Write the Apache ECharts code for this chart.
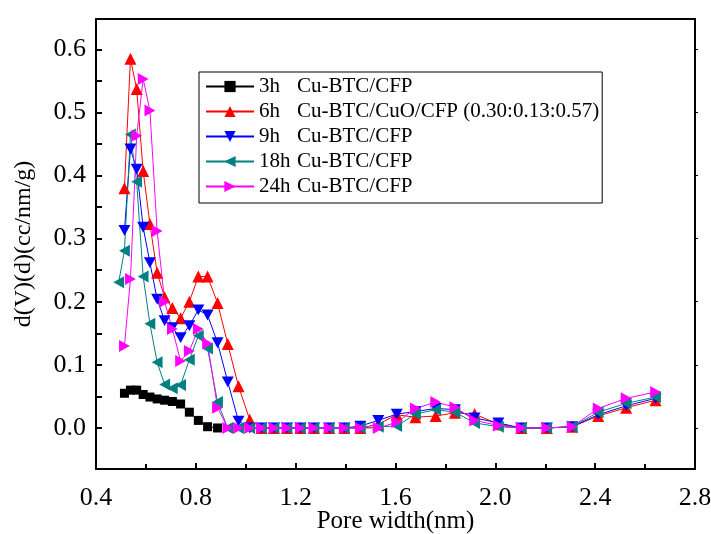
<!DOCTYPE html>
<html>
<head>
<meta charset="utf-8">
<script src="https://cdn.jsdelivr.net/npm/echarts@6/dist/echarts.min.js"></script>
<style>
  html, body { margin: 0; padding: 0; background: #fff; }
  #container1 { width: 711px; height: 534px; }
</style>
</head>
<body>
<div id="container1"></div>
<script>
// 孔径分布 (DFT)
var poreWidth = [0.491, 0.514, 0.538, 0.563, 0.589, 0.616, 0.645, 0.675, 0.706, 0.739,
                 0.774, 0.810, 0.847, 0.887, 0.928, 0.971, 1.016, 1.063, 1.113, 1.165,
                 1.219, 1.273, 1.334, 1.395, 1.459, 1.531, 1.605, 1.680, 1.761, 1.838,
                 1.917, 2.012, 2.104, 2.206, 2.308, 2.412, 2.524, 2.642];

var h3  = [null, 0.055, 0.060, 0.060, 0.053, 0.049, 0.046, 0.044, 0.042, 0.038,
           0.025, 0.012, 0.002, 0.000];
var h6  = [null, 0.380, 0.585, 0.537, 0.407, 0.323, 0.246, 0.207, 0.190, 0.174,
           0.200, 0.240, 0.240, 0.198, 0.133, 0.066, 0.013, 0.000, 0.000, 0.000,
           0.000, 0.000, 0.000, 0.000, 0.000, 0.006, 0.021, 0.017, 0.019, 0.024,
           0.022, 0.006, 0.000, 0.000, 0.002, 0.019, 0.032, 0.044];
var h9  = [null, 0.313, 0.442, 0.410, 0.318, 0.262, 0.204, 0.170, 0.159, 0.143,
           0.162, 0.187, 0.179, 0.135, 0.073, 0.011, 0.000, 0.000, 0.000, 0.000,
           0.000, 0.000, 0.000, 0.000, 0.003, 0.012, 0.022, 0.026, 0.031, 0.029,
           0.016, 0.008, 0.000, 0.000, 0.002, 0.021, 0.035, 0.047];
var h18 = [0.231, 0.281, 0.465, 0.390, 0.240, 0.165, 0.104, 0.069, 0.063, 0.068,
           0.108, 0.146, 0.126, 0.041, 0.000, 0.000, 0.000, 0.000, 0.000, 0.000,
           0.000, 0.000, 0.000, 0.000, 0.000, 0.002, 0.003, 0.022, 0.029, 0.025,
           0.008, 0.002, 0.000, 0.000, 0.002, 0.025, 0.039, 0.049];
var h24 = [null, 0.130, 0.236, 0.463, 0.553, 0.503, 0.312, 0.200, 0.157, 0.106,
           0.122, 0.157, 0.134, 0.032, 0.000, 0.000, 0.000, 0.000, 0.000, 0.000,
           0.000, 0.000, 0.000, 0.000, 0.000, 0.000, 0.009, 0.031, 0.041, 0.033,
           0.012, 0.004, 0.000, 0.000, 0.002, 0.031, 0.047, 0.057];

var times   = ['3h', '6h', '9h', '18h', '24h'];
var samples = ['Cu-BTC/CFP', 'Cu-BTC/CuO/CFP (0.30:0.13:0.57)', 'Cu-BTC/CFP', 'Cu-BTC/CFP', 'Cu-BTC/CFP'];
var yTicks  = [0.0, 0.1, 0.2, 0.3, 0.4, 0.5, 0.6];
var yMinor  = [0.0, 0.05, 0.1, 0.15, 0.2, 0.25, 0.3, 0.35, 0.4, 0.45, 0.5, 0.55, 0.6];

var colors  = ['#000000', '#ff0000', '#0000ff', '#008080', '#ff00ff'];
var symbols = ['rect', 'triangle', 'path://M0,0L10,0L5,9Z', 'path://M9,0L9,10L0,5Z', 'path://M0,0L0,10L9,5Z'];
var sizes   = [9, 12, 12, 12, 12];
var values  = [h3, h6, h9, h18, h24];

var font = 'Liberation Serif';

var dom    = document.getElementById("container1");
var chart1 = echarts.init(dom);

var series = [];
var legend = [];
for (var i = 0; i < values.length; i++) {
    var pts = [];
    for (var j = 0; j < values[i].length; j++) {
        if (values[i][j] !== null) pts.push([poreWidth[j], values[i][j]]);
    }
    var name = times[i] + ' ' + samples[i];
    legend.push(name);
    series.push({
        name: name,
        type: 'line',
        data: pts,
        symbol: symbols[i],
        symbolSize: sizes[i],
        symbolKeepAspect: true,
        color: colors[i],
        lineStyle: {width: 1, color: colors[i]},
        itemStyle: {color: colors[i]},
    });
}

option = {
    animation: false,
    grid: {
        left: 96,
        right: 16,
        top: 19,
        bottom: 65,
        outerBoundsMode: 'none',
        containLabel: false
    },
    legend: {
        data: legend,
        orient: 'vertical',
        left: 199,
        top: 72,
        itemWidth: 48,
        itemHeight: 14,
        itemGap: 4,
        padding: [4, 3, 6, 6],
        borderColor: '#000',
        borderWidth: 1,
        formatter: function (n) {
            var k = n.indexOf(' ');
            return '{t|' + n.slice(0, k) + '}' + n.slice(k + 1);
        },
        textStyle: {
            fontFamily: font,
            fontSize: 21,
            color: '#000',
            rich: {
                t: {fontFamily: font, fontSize: 21, width: 38, color: '#000'}
            }
        }
    },
    xAxis: [{
        type: 'value',
        min: 0.4,
        max: 2.8,
        interval: 0.4,
        name: 'Pore width(nm)',
        nameLocation: 'middle',
        nameGap: 40,
        nameMoveOverlap: false,
        nameTextStyle: {fontFamily: font, fontSize: 25, color: '#000'},
        axisLine: {onZero: false, lineStyle: {color: '#000', width: 2}},
        axisTick: {inside: true, length: 6, lineStyle: {color: '#000', width: 2}},
        minorTick: {show: true, splitNumber: 2, length: 5, lineStyle: {color: '#000', width: 2}},
        axisLabel: {
            margin: 16,
            fontFamily: font,
            fontSize: 26,
            color: '#000',
            formatter: function (v) { return v.toFixed(1); }
        },
        splitLine: {show: false}
    }, {
        type: 'value',
        position: 'top',
        min: 0.4,
        max: 2.8,
        interval: 0.4,
        axisLine: {show: true, onZero: false, lineStyle: {color: '#000', width: 2}},
        axisTick: {show: false},
        axisLabel: {show: false},
        splitLine: {show: false}
    }],
    yAxis: [{
        type: 'value',
        min: -0.065,
        max: 0.648,
        name: 'd(V)(d)(cc/nm/g)',
        nameLocation: 'middle',
        nameGap: 60,
        nameMoveOverlap: false,
        nameTextStyle: {fontFamily: font, fontSize: 24, color: '#000'},
        axisLine: {show: true, onZero: false, lineStyle: {color: '#000', width: 2}},
        axisTick: {inside: true, length: 6, customValues: yMinor, lineStyle: {color: '#000', width: 2}},
        axisLabel: {
            customValues: yTicks,
            margin: 10,
            fontFamily: font,
            fontSize: 26,
            color: '#000',
            formatter: function (v) { return v.toFixed(1); }
        },
        splitLine: {show: false}
    }, {
        type: 'value',
        position: 'right',
        min: -0.065,
        max: 0.648,
        axisLine: {show: true, onZero: false, lineStyle: {color: '#000', width: 2}},
        axisTick: {show: true, length: 3, customValues: yTicks, lineStyle: {color: '#000', width: 1}},
        axisLabel: {show: false},
        splitLine: {show: false}
    }],
    series: series
};

chart1.setOption(option, true);
</script>
</body>
</html>
